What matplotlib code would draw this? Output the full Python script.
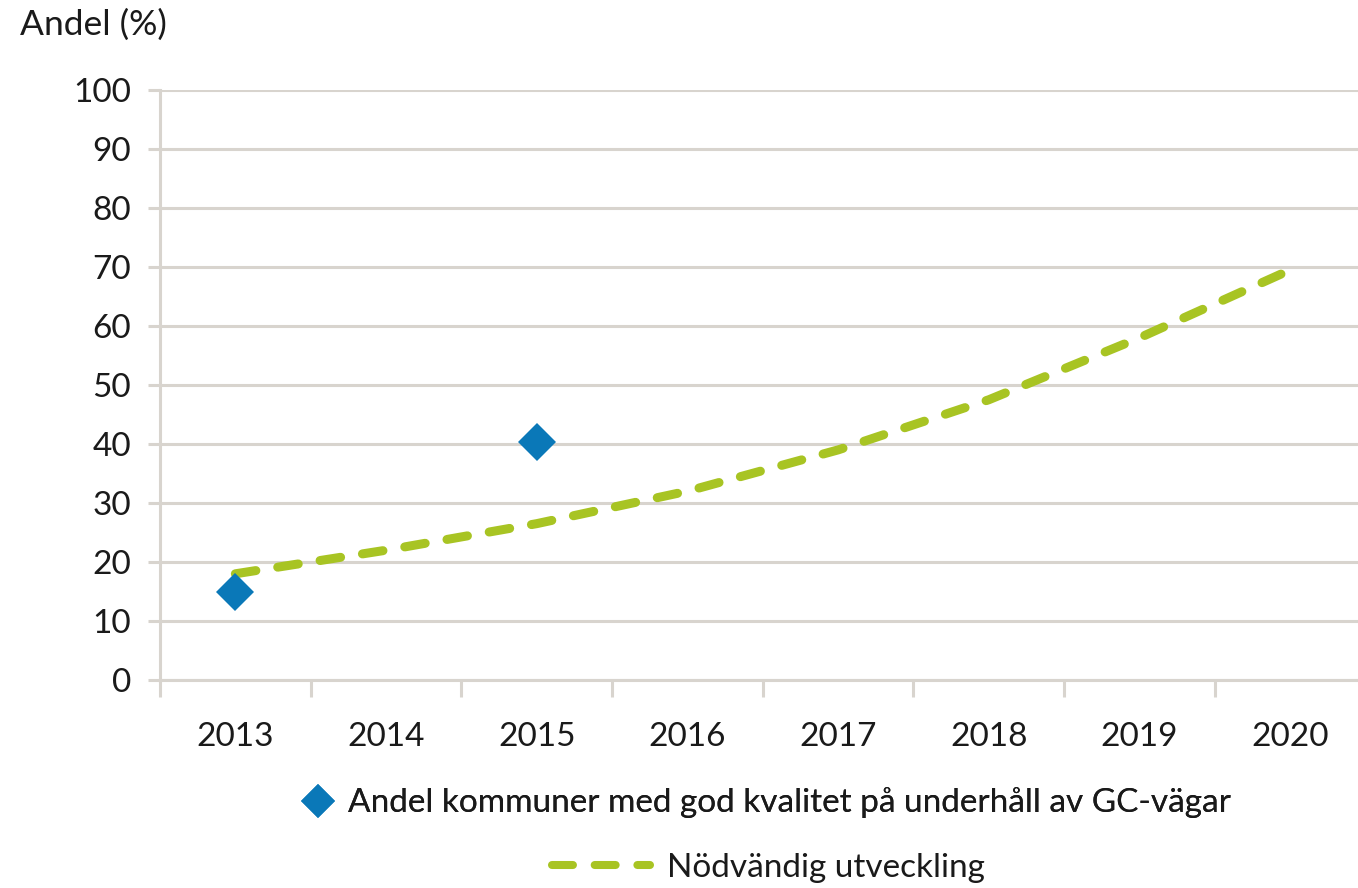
import matplotlib
matplotlib.use('Agg')
import matplotlib.pyplot as plt
from matplotlib.lines import Line2D

# data
years = ['2013', '2014', '2015', '2016', '2017', '2018', '2019', '2020']
andel_x = [0, 2]
andel_values = [15, 40.3]
utveckling = [18, 22, 26.5, 32, 39, 47.5, 58, 69.5]
y_ticks = [0, 10, 20, 30, 40, 50, 60, 70, 80, 90, 100]

label_andel = 'Andel kommuner med god kvalitet på underhåll av GC-vägar'
label_utv = 'Nödvändig utveckling'

BLUE = '#0a78b8'
GREEN = '#a8c423'
GRID = '#d8d4ce'
TXT = '#1a1a1a'

LW = 6.5
DASH = (2.3, 2.45)

plt.rcParams['font.family'] = ['Lato', 'DejaVu Sans']

fig = plt.figure(figsize=(13.58, 8.88), dpi=100)
ax = fig.add_axes([160 / 1358, 1 - 680 / 888, 1 - 160 / 1358, 590 / 888])

ax.plot(range(len(years)), utveckling, color=GREEN, lw=LW,
        dashes=DASH, dash_capstyle='round', zorder=3)
ax.plot(andel_x, andel_values, 'D', color=BLUE, ms=19, mew=0, zorder=4)

ax.set_ylim(0, 100)
ax.set_xlim(-0.5, 7.45)
ax.set_yticks(y_ticks)
ax.set_xticks(range(len(years)))
ax.set_xticklabels(years)
ax.set_xticks([i - 0.5 for i in range(len(years))], minor=True)

ax.grid(axis='y', color=GRID, lw=2.2, zorder=0)
for s in ['top', 'right', 'bottom']:
    ax.spines[s].set_visible(False)
ax.spines['left'].set_color(GRID)
ax.spines['left'].set_linewidth(2.2)

ax.tick_params(axis='y', colors=GRID, length=9, width=2.2, labelsize=24,
               labelcolor=TXT, pad=12)
ax.tick_params(axis='x', which='major', length=0, labelsize=24,
               labelcolor=TXT, pad=30)
ax.tick_params(axis='x', which='minor', colors=GRID, length=12, width=2.2)
ax.axhline(0, color=GRID, lw=2.2, zorder=1, clip_on=False)

fig.text(20 / 1358, 1 - 25 / 888, 'Andel (%)', fontsize=25.5, color=TXT,
         va='center', ha='left')

h1 = Line2D([], [], ls='none', marker='D', color=BLUE, ms=17, mew=0)
h2 = Line2D([], [], color=GREEN, lw=5.8, dashes=(2.6, 2.7),
            dash_capstyle='round')
leg1 = fig.legend([h1], [label_andel], loc='center',
                  bbox_to_anchor=(768 / 1358, 1 - 803 / 888), frameon=False,
                  fontsize=24, handlelength=0.8, handletextpad=0.5,
                  labelcolor=TXT)
fig.add_artist(leg1)
fig.legend([h2], [label_utv], loc='center',
           bbox_to_anchor=(768 / 1358, 1 - 868 / 888), frameon=False,
           fontsize=24, handlelength=2.95, handletextpad=0.5,
           labelcolor=TXT)

fig.savefig('out.png', dpi=100)
